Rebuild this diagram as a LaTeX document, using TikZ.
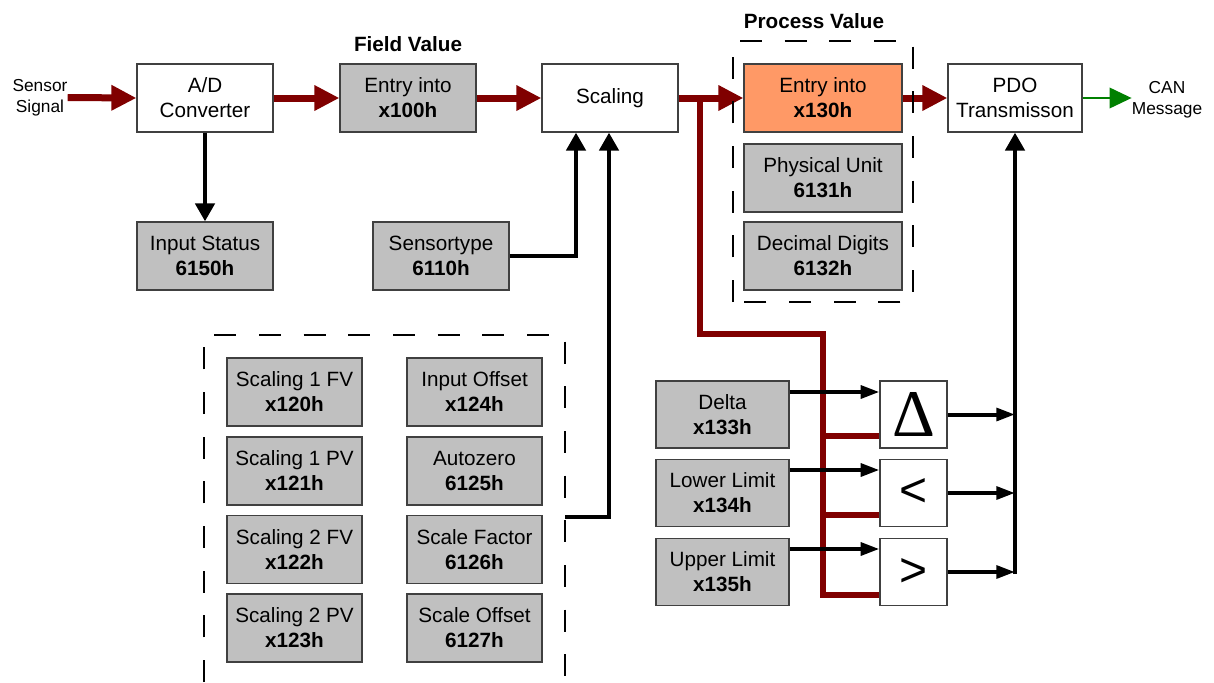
\documentclass[tikz,border=0pt]{standalone}
\usepackage{fontspec}
\setmainfont{Liberation Sans}
\newfontfamily\serifD{Liberation Serif}
\usetikzlibrary{arrows.meta}
\definecolor{dred}{HTML}{800000}
\definecolor{gfill}{HTML}{C0C0C0}
\definecolor{bord}{HTML}{404040}
\definecolor{orng}{HTML}{FF9966}
\definecolor{grn}{HTML}{008000}
\begin{document}
\begin{tikzpicture}[x=0.75pt,y=-0.75pt,
  every node/.style={font=\fontsize{15.5}{18.75}\selectfont, align=center, inner sep=0pt},
  wbox/.style={draw=bord, line width=0.9pt, fill=white, minimum width=102pt, minimum height=51pt},
  gbox/.style={wbox, fill=gfill},
  pvbox/.style={gbox, minimum width=118.5pt},
  lgbox/.style={gbox, minimum width=101.25pt},
  limbox/.style={gbox, minimum width=99.75pt, minimum height=50.25pt},
  cmpbox/.style={wbox, minimum width=50.25pt, minimum height=50.25pt},
  smalltxt/.style={font=\fontsize{13}{15.75}\selectfont},
  title/.style={font=\bfseries\fontsize{15.5}{18.75}\selectfont},
  redl/.style={draw=dred, line width=5.25pt},
  redbr/.style={draw=dred, line width=4.5pt},
  redarr/.style={redl, -{Triangle[length=18.75pt,width=18pt]}},
  blkv/.style={draw=black, line width=3.4pt, -{Triangle[length=13.5pt,width=14.25pt]}},
  blkh/.style={draw=black, line width=3pt, -{Triangle[length=14pt,width=9.5pt]}},
  grnarr/.style={draw=grn, line width=1.1pt, -{Triangle[length=16.5pt,width=15.5pt]}},
  dsh/.style={draw=black, line width=1.5pt, dash pattern=on 16.5pt off 17pt}
]
\useasboundingbox (0,0) rectangle (1214,682);

% top row
\node[smalltxt] (SS) at (40,97.5) {Sensor\\Signal};
\node[wbox] (AD) at (205,98) {A/D\\Converter};
\node[gbox] (E100) at (408,98) {Entry into\\\textbf{x100h}};
\node[wbox] (Scal) at (610,98) {Scaling};
\node[pvbox, fill=orng] (E130) at (823,98) {Entry into\\\textbf{x130h}};
\node[wbox, minimum width=100.5pt] (PDO) at (1015,98) {PDO\\Transmisson};
\node[smalltxt] (CAN) at (1167,100) {CAN\\Message};

\node[title] (FV) at (408,44) {Field Value};
\node[title] (PV) at (814,21) {Process Value};

\node[pvbox] (PU) at (823,178) {Physical Unit\\\textbf{6131h}};
\node[pvbox] (DD) at (823,256) {Decimal Digits\\\textbf{6132h}};
\node[gbox] (IS) at (205,256) {Input Status\\\textbf{6150h}};
\node[gbox] (ST) at (441,256) {Sensortype\\\textbf{6110h}};

% left group
\node[lgbox] (S1F) at (294.5,392) {Scaling 1 FV\\\textbf{x120h}};
\node[lgbox] (S1P) at (294.5,471) {Scaling 1 PV\\\textbf{x121h}};
\node[lgbox] (S2F) at (294.5,549.5) {Scaling 2 FV\\\textbf{x122h}};
\node[lgbox] (S2P) at (294.5,628) {Scaling 2 PV\\\textbf{x123h}};
\node[lgbox] (IO) at (474.5,392) {Input Offset\\\textbf{x124h}};
\node[lgbox] (AZ) at (474.5,471) {Autozero\\\textbf{6125h}};
\node[lgbox] (SF) at (474.5,549.5) {Scale Factor\\\textbf{6126h}};
\node[lgbox] (SO) at (474.5,628) {Scale Offset\\\textbf{6127h}};

% limits
\node[limbox] (DL) at (722.5,414.5) {Delta\\\textbf{x133h}};
\node[limbox] (LL) at (722.5,493) {Lower Limit\\\textbf{x134h}};
\node[limbox] (UL) at (722.5,572) {Upper Limit\\\textbf{x135h}};
\node[cmpbox] (C1) at (913.5,414.5) {};
\node[font=\serifD\fontsize{50}{50}\selectfont] (C1t) at (C1.center) {Δ};
\node[cmpbox, font=\fontsize{36}{36}\selectfont] (C2) at (913.5,493) {<};
\node[cmpbox, font=\fontsize{36}{36}\selectfont] (C3) at (913.5,572) {>};

% coordinates
\coordinate (b1) at (700,98);
\coordinate (b2) at (823,334);
\coordinate (yr1) at (0,436);
\coordinate (yr2) at (0,515);
\coordinate (yr3) at (0,595);
\coordinate (yi1) at (0,392);
\coordinate (yi2) at (0,470);
\coordinate (yi3) at (0,549);
\coordinate (sx1) at (576,0);
\coordinate (sx2) at (609,0);
\coordinate (grp) at (565,517);

% red branch
\draw[redbr] (b1) |- (b2) -- (b2 |- yr3) -- (C3.west |- yr3);
\draw[redbr] (b2 |- yr1) -- (C1.west |- yr1);
\draw[redbr] (b2 |- yr2) -- (C2.west |- yr2);

% red main flow
\draw[redarr] (SS.east) -- (AD.west);
\draw[redarr] (AD.east) -- (E100.west);
\draw[redarr] (E100.east) -- (Scal.west);
\draw[redarr] (Scal.east) -- (E130.west);
\draw[redarr] (E130.east) -- (PDO.west);
\draw[grnarr] (PDO.east) -- (PDO.east -| CAN.west);

% black
\draw[blkv] (AD.south) -- (IS.north);
\draw[blkv] (ST.east) -| (Scal.south -| sx1);
\draw[blkv] (grp) -| (Scal.south -| sx2);
\draw[blkh] (DL.east |- yi1) -- (C1.west |- yi1);
\draw[blkh] (LL.east |- yi2) -- (C2.west |- yi2);
\draw[blkh] (UL.east |- yi3) -- (C3.west |- yi3);
\draw[blkh] (C1.east) -- (PDO.south |- C1.east);
\draw[blkh] (C2.east) -- (PDO.south |- C2.east);
\draw[blkh] (C3.east) -- (PDO.south |- C3.east);
\draw[blkv] ([yshift=-1.2pt]PDO.south |- C3.east) -- (PDO.south);

% dashed groups
\draw[dsh] (733,302) -- (733,41) -- (913,41) -- (913,302) -- cycle;
\draw[dsh] (204,682) -- (204,335) -- (565,335) -- (565,682);
\end{tikzpicture}
\end{document}
